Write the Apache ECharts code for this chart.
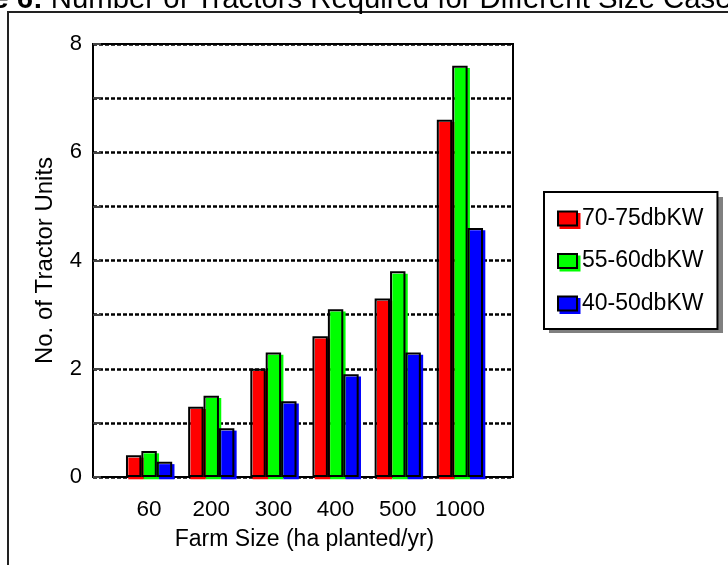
<!DOCTYPE html>
<html>
<head>
<meta charset="utf-8">
<script src="https://cdn.jsdelivr.net/npm/echarts@6/dist/echarts.min.js"></script>
<style>
  html, body { margin: 0; padding: 0; background: #fff; }
  #main { width: 728px; height: 565px; }
</style>
</head>
<body>
<div id="main"></div>
<script>
// data
var categories = ['60', '200', '300', '400', '500', '1000'];
var seriesNames = ['70-75dbKW', '55-60dbKW', '40-50dbKW'];
var tractors7075 = [0.4, 1.3, 2.0, 2.6, 3.3, 6.6];
var tractors5560 = [0.48, 1.5, 2.3, 3.1, 3.8, 7.6];
var tractors4050 = [0.28, 0.9, 1.4, 1.9, 2.3, 4.6];
var yTickLabels = [0, 2, 4, 6, 8];
var colors = ['#ff0000', '#00ff00', '#0000ff'];

var allValues = [tractors7075, tractors5560, tractors4050];
var FONT = "'Liberation Sans', Arial, sans-serif";

var myChart = echarts.init(document.getElementById('main'));

var series = [];
// coloured fills, drawn on a grid nudged 2px right/down (old excel "shadow" look)
for (var i = 0; i < 3; i++) {
    series.push({
        name: seriesNames[i],
        type: 'bar',
        xAxisIndex: 2,
        yAxisIndex: 2,
        barWidth: 15.4,
        barGap: '0%',
        data: allValues[i],
        itemStyle: { color: colors[i] },
        z: 2,
        silent: true
    });
}
// black outlines on top
for (var j = 0; j < 3; j++) {
    series.push({
        name: seriesNames[j],
        type: 'bar',
        xAxisIndex: 1,
        yAxisIndex: 1,
        barWidth: 15.4,
        barGap: '0%',
        data: allValues[j],
        itemStyle: { color: 'rgba(0,0,0,0)', borderColor: '#000', borderWidth: 2 },
        z: 3,
        silent: true
    });
}

option = {
    animation: false,
    textStyle: { fontFamily: FONT },
    graphic: [
        {
            type: 'rect',
            silent: true,
            shape: { x: 8, y: 12, width: 900, height: 700 },
            style: { fill: 'none', stroke: '#222', lineWidth: 2 }
        },
        {
            // grey drop shadow behind the legend box
            type: 'rect',
            silent: true,
            z: 0,
            shape: { x: 549, y: 197, width: 174, height: 136 },
            style: { fill: '#808080' }
        },
        {
            type: 'text',
            silent: true,
            x: -81,
            y: 0,
            style: {
                text: '{b|Figure 6:} Number of Tractors Required for Different Size Cases',
                fontSize: 29.3,
                fontFamily: FONT,
                fill: '#000',
                verticalAlign: 'middle',
                rich: {
                    b: { fontWeight: 'bold', fontSize: 29.3, fontFamily: FONT, fill: '#000' }
                }
            }
        }
    ],
    legend: {
        orient: 'vertical',
        left: 544,
        top: 192,
        z: 5,
        padding: [15, 14, 14, 13],
        itemGap: 19.5,
        itemWidth: 19,
        itemHeight: 14,
        icon: 'rect',
        selectedMode: false,
        backgroundColor: '#fff',
        borderColor: '#000',
        borderWidth: 2,
        textStyle: { fontSize: 23, color: '#000', fontFamily: FONT },
        data: seriesNames.map(function (n, k) {
            return {
                name: n,
                itemStyle: {
                    color: colors[k],
                    borderColor: '#000',
                    borderWidth: 2,
                    shadowColor: colors[k],
                    shadowOffsetX: 2.5,
                    shadowOffsetY: 2.5,
                    shadowBlur: 0
                }
            };
        })
    },
    grid: [
        { left: 93, right: 215, top: 44, bottom: 88, show: true, borderColor: '#000', borderWidth: 2, backgroundColor: 'rgba(0,0,0,0)' },
        { left: 118, right: 237, top: 44, bottom: 88 },
        { left: 120.3, right: 234.7, top: 46.3, bottom: 85.7 }
    ],
    xAxis: [
        { gridIndex: 0, type: 'value', show: false, min: 0, max: 1 },
        {
            gridIndex: 1,
            type: 'category',
            data: categories,
            axisLine: { show: false },
            axisTick: { show: false },
            axisLabel: { fontSize: 22.5, margin: 21, color: '#000', interval: 0 },
            name: 'Farm Size (ha planted/yr)',
            nameLocation: 'middle',
            nameGap: 51,
            nameTextStyle: { fontSize: 23, color: '#000' }
        },
        { gridIndex: 2, type: 'category', data: categories, show: false }
    ],
    yAxis: [
        {
            gridIndex: 0,
            type: 'value',
            min: 0,
            max: 8,
            interval: 1,
            axisLine: { show: false },
            axisTick: { show: true, inside: true, length: 8, lineStyle: { color: '#444', width: 2 } },
            axisLabel: {
                fontSize: 22,
                margin: 11,
                color: '#000',
                formatter: function (v) {
                    return yTickLabels.indexOf(v) >= 0 ? String(v) : '';
                }
            },
            splitLine: { show: true, lineStyle: { color: '#000', width: 2.5, type: [4, 2] } },
            name: 'No. of Tractor Units',
            nameLocation: 'middle',
            nameGap: 36,
            nameTextStyle: { fontSize: 24, color: '#000' }
        },
        { gridIndex: 1, type: 'value', min: 0, max: 8, show: false },
        { gridIndex: 2, type: 'value', min: 0, max: 8, show: false }
    ],
    series: series
};

myChart.setOption(option);
</script>
</body>
</html>
